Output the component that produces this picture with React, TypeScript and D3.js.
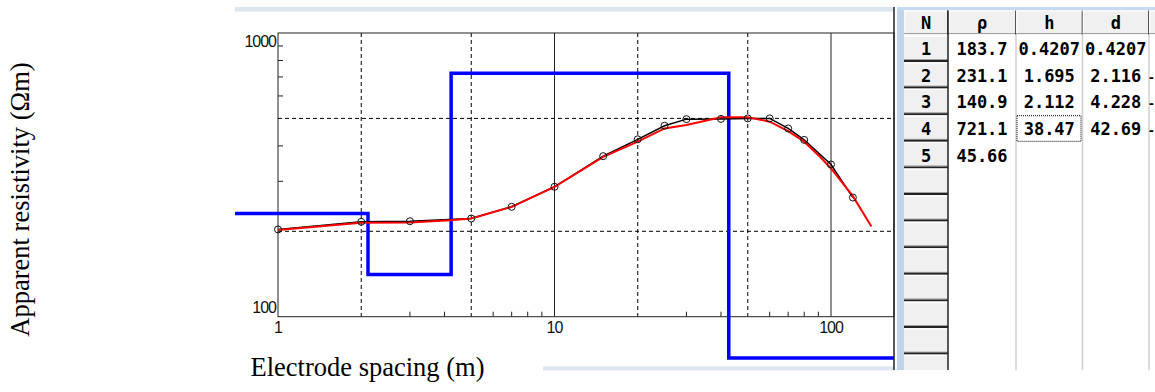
import * as d3 from "d3";

// observed apparent resistivity (AB/2 in m, rho in ohm-m)
const spacing = [1, 2, 3, 5, 7, 10, 15, 20, 25, 30, 40, 50, 60, 70, 80, 100, 120];
const observed = [203, 216, 217, 222, 244, 287, 368, 422, 471, 497, 498, 500, 500, 461, 420, 344, 263];

// calculated curve of the layered model
const calcSpacing = [1, 2, 3, 4.2, 5, 7, 10, 15, 20, 25, 30, 40, 50, 60, 70, 80, 90, 100, 120, 140];
const calculated = [202, 214.5, 215, 218.6, 222, 244, 287, 366, 414, 461, 474, 505, 505, 487, 451, 414, 371, 333, 266, 208];

// layer model (table)
const layerRho = [183.7, 231.1, 140.9, 721.1, 45.66];
const layerH = [0.4207, 1.695, 2.112, 38.47];
const layerD = [0.4207, 2.116, 4.228, 42.69];
const cutCol = ["", "-", "-", "-", ""];

// axis ticks
const xLabels = [1, 10, 100];
const xSolid = [10, 100];
const xDashed = [2, 5, 20, 50];
const xMinor = [3, 4, 6, 7, 8, 9, 30, 40, 60, 70, 80, 90];
const yLabels = [100, 1000];
const yDashed = [200, 500];
const yMinor = [300, 400, 600, 700, 800, 900];

const plotL = 278, plotR = 894, plotT = 33, plotB = 316.7;
const panel = { l: 235, r: 894, t: 12, b: 360 };

export default function App() {
    const x = d3.scaleLog().domain([1, 100]).range([plotL, 831]);
    const y = d3.scaleLog().domain([100, 1000]).range([plotB, plotT]);
    const yb = (v: number) => Math.min(y(v), 358);

    // blue step model
    const steps: [number, number][] = [];
    let top = 0.1;
    layerRho.forEach((rho, i) => {
        const bottom = i < layerD.length ? layerD[i] : x.invert(plotR + 20);
        steps.push([top, rho], [bottom, rho]);
        top = bottom;
    });
    const stepLine = d3.line<[number, number]>().x(d => x(d[0])).y(d => yb(d[1]));

    const obsLine = d3.line<number>().x((d, i) => x(spacing[i])).y(d => y(d));
    const calcLine = d3.line<number>().x((d, i) => x(calcSpacing[i])).y(d => y(d));

    const tickFont = { fontFamily: "Liberation Sans, Arial, sans-serif", fontSize: 16, letterSpacing: -1 };
    const cellFont = { fontFamily: "DejaVu Sans Mono, monospace", fontSize: 17, fontWeight: 700, letterSpacing: 0 };

    // table geometry
    const headT = 10.5, headB = 34.5, rowT = 35.4, rowH = 26.6, tableB = 370;
    const cols = [
        { x0: 904, x1: 948, title: "N" },
        { x0: 948, x1: 1016, title: "ρ" },
        { x0: 1016, x1: 1082.5, title: "h" },
        { x0: 1082.5, x1: 1149, title: "d" },
        { x0: 1149, x1: 1215, title: "" },
    ];
    const rows = d3.range(13);
    const cellText = (c: number, r: number) => {
        if (c === 1) return layerRho[r] !== undefined ? String(layerRho[r]) : "";
        if (c === 2) return layerH[r] !== undefined ? String(layerH[r]) : "";
        if (c === 3) return layerD[r] !== undefined ? String(layerD[r]) : "";
        return "";
    };

    return (
        <svg width={1155} height={392} style={{ position: "absolute", left: 0, top: 0, background: "#fff" }}>
            <defs>
                <clipPath id="panelClip">
                    <rect x={panel.l} y={panel.t} width={panel.r - panel.l} height={panel.b - panel.t} />
                </clipPath>
                <clipPath id="tableClip">
                    <rect x={897} y={7} width={258} height={tableB - 7} />
                </clipPath>
            </defs>

            {/* panel strips */}
            <rect x={235} y={7} width={659} height={4.5} fill="#dce6f1" />
            <rect x={543} y={366.5} width={351} height={4} fill="#dce6f1" />
            <line x1={894} x2={894} y1={7} y2={370} stroke="#222" strokeWidth={1.5} />

            {/* grid */}
            {xDashed.map(v => (
                <line key={"xd" + v} x1={x(v)} x2={x(v)} y1={plotT} y2={plotB} stroke="#000" strokeDasharray="4,3" />
            ))}
            {yDashed.map(v => (
                <line key={"yd" + v} x1={plotL} x2={plotR} y1={y(v)} y2={y(v)} stroke="#000" strokeDasharray="4,3" />
            ))}
            {xSolid.map(v => (
                <line key={"xs" + v} x1={x(v)} x2={x(v)} y1={plotT} y2={plotB} stroke="#222" />
            ))}
            {xMinor.map(v => (
                <line key={"xm" + v} x1={x(v)} x2={x(v)} y1={plotB - 5} y2={plotB} stroke="#222" />
            ))}
            {yMinor.map(v => (
                <line key={"ym" + v} x1={plotL} x2={plotL + 5} y1={y(v)} y2={y(v)} stroke="#222" />
            ))}
            <rect x={plotL} y={plotT} width={plotR - plotL} height={plotB - plotT} fill="none" stroke="#222" />

            {/* tick labels */}
            {yLabels.map(v => (
                <text key={"yl" + v} x={276} y={v === 1000 ? 46.5 : 313} textAnchor="end" {...tickFont} fill="#111">{v}</text>
            ))}
            {xLabels.map(v => (
                <text key={"xl" + v} x={x(v)} y={332.5} textAnchor="middle" {...tickFont} fill="#111">{v}</text>
            ))}

            {/* curves */}
            <path d={stepLine(steps) || ""} clipPath="url(#panelClip)" fill="none" stroke="#0000ff" strokeWidth={3.5} />
            <path d={obsLine(observed) || ""} fill="none" stroke="#000" strokeWidth={1.5} />
            <path d={calcLine(calculated) || ""} fill="none" stroke="#ff0000" strokeWidth={2} />
            {observed.map((v, i) => (
                <circle key={"o" + i} cx={x(spacing[i])} cy={y(v)} r={3.5} fill="none" stroke="#111" strokeWidth={1} />
            ))}

            {/* axis titles */}
            <text x={250.5} y={376} fontFamily="Liberation Serif, Times New Roman, serif" fontSize={26.5} fill="#000">
                Electrode spacing (m)
            </text>
            <text transform="translate(29,199.5) rotate(-90)" textAnchor="middle" fontFamily="Liberation Serif, Times New Roman, serif" fontSize={26.5} fill="#000">
                Apparent resistivity (Ωm)
            </text>

            {/* table */}
            <rect x={897} y={7} width={7} height={363} fill="#bdd4ec" />
            <rect x={897} y={7} width={258} height={3.5} fill="#c5d9f0" />
            <g clipPath="url(#tableClip)">
                {cols.slice(1).map((c, i) => (
                    <line key={"cs" + i} x1={c.x1} x2={c.x1} y1={headB} y2={tableB} stroke="#d0d0d0" strokeWidth={1.5} />
                ))}
                {cols.map((c, i) => (
                    <g key={"h" + i}>
                        <rect x={c.x0} y={headT} width={c.x1 - c.x0} height={headB - headT} fill="#f0f0f0" />
                        <line x1={c.x0 + 1} x2={c.x0 + 1} y1={headT} y2={headB} stroke="#fff" />
                        <line x1={c.x0} x2={c.x1} y1={headT + 0.5} y2={headT + 0.5} stroke="#fff" />
                        <line x1={c.x0} x2={c.x1} y1={headB - 1} y2={headB - 1} stroke="#a0a0a0" />
                        <line x1={c.x1} x2={c.x1} y1={headT} y2={headB} stroke="#222" strokeWidth={1.5} />
                        <text x={(c.x0 + c.x1) / 2} y={28.5} textAnchor="middle" {...cellFont} fill="#000">{c.title}</text>
                    </g>
                ))}
                {rows.map(r => {
                    const y0 = rowT + r * rowH;
                    return (
                        <g key={"r" + r}>
                            <rect x={904} y={y0} width={44} height={rowH} fill="#f0f0f0" />
                            <line x1={904} x2={948} y1={y0 + 1} y2={y0 + 1} stroke="#fff" />
                            <line x1={904} x2={948} y1={y0 + rowH - 2.5} y2={y0 + rowH - 2.5} stroke="#a0a0a0" />
                            <line x1={904} x2={948} y1={y0 + rowH - 1} y2={y0 + rowH - 1} stroke="#222" strokeWidth={2} />
                            {r < layerRho.length && (
                                <text x={926} y={y0 + rowH / 2 + 6.5} textAnchor="middle" {...cellFont} fill="#000">{r + 1}</text>
                            )}
                            {[1, 2, 3].map(c => (
                                <text key={c} x={(cols[c].x0 + cols[c].x1) / 2} y={y0 + rowH / 2 + 6.5} textAnchor="middle" {...cellFont} fill="#000">
                                    {cellText(c, r)}
                                </text>
                            ))}
                            {cutCol[r] && (
                                <text x={1155} y={y0 + rowH / 2 + 6.5} textAnchor="end" {...cellFont} fontSize={12} fill="#000">{cutCol[r]}</text>
                            )}
                        </g>
                    );
                })}
                <line x1={948} x2={948} y1={headT} y2={tableB} stroke="#222" strokeWidth={1.5} />
                <rect x={1017} y={rowT + 3 * rowH + 0.5} width={64} height={rowH - 1} fill="none" stroke="#000" strokeDasharray="1,1" />
            </g>
        </svg>
    );
}
